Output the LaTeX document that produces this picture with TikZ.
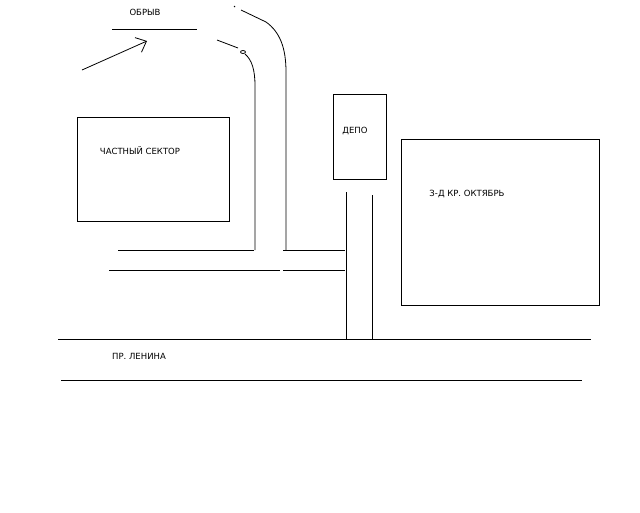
\documentclass[tikz,border=0pt]{standalone}
\usepackage{fontspec}
\setmainfont{DejaVu Sans}
\usetikzlibrary{arrows.meta}
\tikzset{
building/.style={draw, thick, minimum width=#1, inner sep=0pt},
lbl/.style={font=\fontsize{8.5}{9}\selectfont, inner sep=0pt},
road/.style={thick}
}

\begin{document}
\begin{tikzpicture}[x=1pt, y=-1pt]
	\useasboundingbox (0,0) rectangle (640,512);
	% buildings
	\node[building=152pt, minimum height=104pt] (sector) at (153,169) {};
	\node[building=53pt, minimum height=85pt] (depo) at (359.5,136.5) {};
	\node[building=198pt, minimum height=166pt] (zavod) at (500,222) {};
	\node[lbl] at (140,151) {ЧАСТНЫЙ СЕКТОР};
	\node[lbl] at (355,131) {ДЕПО};
	\node[lbl] at (467,194) {З-Д КР. ОКТЯБРЬ};
	\node[lbl] at (139,356) {ПР. ЛЕНИНА};
	\node[lbl] (obryv) at (145,12) {ОБРЫВ};
	% cliff edge and arrow
	\coordinate (e1) at (112,29); \coordinate (e2) at (197,29);
	\draw[road] (e1) -- (e2);
	\coordinate (a1) at (82,70); \coordinate (a2) at (147,41);
	\draw[road, -{Straight Barb[length=9pt, width=16pt]}] (a1) -- (a2);
	% road down the slope
	\coordinate (o0) at (234,6); \coordinate (o1) at (241,10);
	\coordinate (o2) at (286,250); \coordinate (o3) at (345,250);
	\draw[road] (o0) -- (235,7);
	\draw[road] (o1) -- (266,22) .. controls (280,32) and (286,48) .. (286,72) -- (o2);
	\draw[road] (283,250) -- (o3);
	\coordinate (i1) at (217,40); \coordinate (i2) at (255,250);
	\draw[road] (i1) -- (238,48);
	\draw[thick] (243,52) ellipse (2.5pt and 1.5pt);
	\draw[road] (245,54) .. controls (252,60) and (255,70) .. (255,86) -- (i2);
	\draw[road] (118,250) -- (254,250);
	\draw[road] (109,270) -- (280,270);
	\draw[road] (283,270) -- (o3 |- 0,270);
	% street by the depot
	\coordinate (d1) at (346,192); \coordinate (d2) at (372,195);
	\draw[road] (d1) -- (346,339);
	\draw[road] (d2) -- (372,339);
	% Lenin avenue
	\coordinate (l1) at (58,339); \coordinate (l2) at (591,339);
	\coordinate (l3) at (61,380); \coordinate (l4) at (582,380);
	\draw[road] (l1) -- (l2);
	\draw[road] (l3) -- (l4);
\end{tikzpicture}
\end{document}
